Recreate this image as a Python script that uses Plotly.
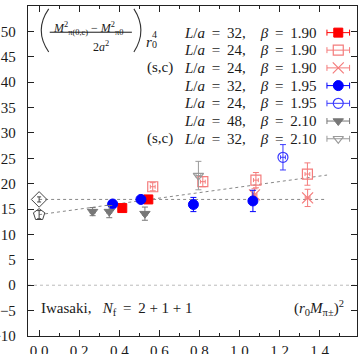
import plotly.graph_objects as go

# ---------------- data ----------------
# L/a=32, beta=1.90 (filled red squares)
x_32_190 = [0.415, 0.545]
y_32_190 = [15.2, 16.9]
ey_32_190 = [0.6, 0.6]
# L/a=24, beta=1.90 (open red squares)
x_24_190 = [0.567, 0.817, 1.082, 1.339]
y_24_190 = [19.4, 20.4, 20.7, 21.9]
ey_24_190 = [0.8, 1.0, 1.5, 2.2]
# (s,c) L/a=24, beta=1.90 (red crosses)
x_24_190sc = [1.075, 1.340]
y_24_190sc = [17.8, 17.2]
ey_24_190sc = [1.2, 1.7]
# L/a=32, beta=1.95 (filled blue circles)
x_32_195 = [0.367, 0.508, 0.770, 1.067]
y_32_195 = [16.0, 16.9, 15.9, 16.6]
ey_32_195 = [0.6, 0.6, 1.4, 2.1]
# L/a=24, beta=1.95 (open blue circles)
x_24_195 = [1.217]
y_24_195 = [25.2]
ey_24_195 = [2.5]
# L/a=48, beta=2.10 (filled grey triangles)
x_48_210 = [0.267, 0.350, 0.528]
y_48_210 = [14.5, 14.5, 14.1]
ey_48_210 = [0.8, 1.2, 1.3]
# (s,c) L/a=32, beta=2.10 (open grey triangles)
x_32_210sc = [0.795]
y_32_210sc = [21.6]
ey_32_210sc = [2.8]
# continuum extrapolations
x_extrap = [0.0, 0.0]
y_extrap = [16.9, 13.9]
ey_extrap = [0.5, 0.8]
# fits
const_fit = 16.9
lin_intercept = 13.9
lin_slope = 5.43
fit_x_end = 1.437

x_ticks = [0.0, 0.2, 0.4, 0.6, 0.8, 1.0, 1.2, 1.4]
x_tick_labels = ["0.0", "0.2", "0.4", "0.6", "0.8", "1.0", "1.2", "1.4"]
y_ticks = list(range(-10, 56, 5))

legend_La = ["32", "24", "24", "32", "24", "48", "32"]
legend_beta = ["1.90", "1.90", "1.90", "1.95", "1.95", "2.10", "2.10"]
legend_sc = [False, False, True, False, False, False, True]

# ---------------- styles ----------------
RED = "#ff0000"
PINK = "#f47c7c"
BLUE = "#0000ff"
LBLUE = "#3a3aff"
GREY = "#777777"
LGREY = "#9a9a9a"
DARK = "#444444"
FONT = "Liberation Serif"
TXT = "#1a1a1a"

# plot-area pixel geometry helpers (for annotation placement only)
PX0, PX1, PY0, PY1 = 28.3, 356.7, 6.1, 335.7


def fx(px):
    return (px - PX0) / (PX1 - PX0)


def fy(py):
    return (PY1 - py) / (PY1 - PY0)


series = [
    (x_32_190, y_32_190, ey_32_190, "square", RED, RED, 9, 1),
    (x_24_190, y_24_190, ey_24_190, "square-open", PINK, PINK, 10, 1.2),
    (x_24_190sc, y_24_190sc, ey_24_190sc, "x-thin-open", PINK, PINK, 11, 1.2),
    (x_32_195, y_32_195, ey_32_195, "circle", BLUE, BLUE, 10, 1),
    (x_24_195, y_24_195, ey_24_195, "circle-open", LBLUE, LBLUE, 10, 1.2),
    (x_48_210, y_48_210, ey_48_210, "triangle-down", GREY, GREY, 9, 1),
    (x_32_210sc, y_32_210sc, ey_32_210sc, "triangle-down-open", LGREY, LGREY, 9, 1.2),
]

fig = go.Figure()

# zero line
fig.add_shape(type="line", xref="paper", x0=0, x1=1, yref="y", y0=0, y1=0,
              line=dict(color="#bbbbbb", width=1, dash="dot"), layer="below")

# fits
fig.add_trace(go.Scatter(x=[0.0, fit_x_end], y=[const_fit, const_fit], mode="lines",
                         line=dict(color="#888888", width=1, dash="dot"), showlegend=False, hoverinfo="skip"))
fig.add_trace(go.Scatter(x=[0.0, fit_x_end],
                         y=[lin_intercept, lin_intercept + lin_slope * fit_x_end], mode="lines",
                         line=dict(color="#888888", width=1, dash="dot"), showlegend=False, hoverinfo="skip"))

# extrapolated points
fig.add_trace(go.Scatter(x=x_extrap[:1], y=y_extrap[:1], mode="markers",
                         marker=dict(symbol="diamond-open", size=12, color=DARK, line=dict(width=1)),
                         error_y=dict(type="data", array=ey_extrap[:1], color=DARK, thickness=1, width=2),
                         showlegend=False))
fig.add_trace(go.Scatter(x=x_extrap[1:], y=y_extrap[1:], mode="markers",
                         marker=dict(symbol="pentagon-open", size=12, color=DARK, line=dict(width=1)),
                         error_y=dict(type="data", array=ey_extrap[1:], color=DARK, thickness=1, width=2),
                         showlegend=False))

for xs, ys, eys, sym, col, ecol, size, lw in series:
    fig.add_trace(go.Scatter(
        x=xs, y=ys, mode="markers",
        marker=dict(symbol=sym, size=size, color=col, line=dict(color=col, width=lw)),
        error_y=dict(type="data", array=eys, color=ecol, thickness=1, width=3),
        error_x=dict(type="constant", value=0.012, color=ecol, thickness=1, width=2),
        showlegend=False))

# manual legend keys on an overlay axis (fractions of plot area)
key_x = fx(338)
key_half = 11.3 / (PX1 - PX0)
row_py = [32.7, 50.2, 67.9, 85.6, 103.3, 121.0, 138.7]
NB = "\u00a0"
EQ = NB + "\u2009=\u2009" + NB
for i, (xs, ys, eys, sym, col, ecol, size, lw) in enumerate(series):
    ry = fy(row_py[i])
    fig.add_trace(go.Scatter(
        x=[key_x], y=[ry], xaxis="x2", yaxis="y2", mode="markers",
        marker=dict(symbol=sym, size=size, color=col, line=dict(color=col, width=lw)),
        error_x=dict(type="constant", value=key_half, color=ecol, thickness=1, width=3),
        showlegend=False, hoverinfo="skip"))
    label = ("<i>L</i>/<i>a</i>" + EQ + legend_La[i] + "," + NB * 4 +
             "<i>β</i>" + EQ + legend_beta[i])
    fig.add_annotation(xref="paper", yref="paper", x=fx(318), y=ry, xanchor="right",
                       yanchor="middle", showarrow=False, text=label,
                       font=dict(family=FONT, size=15, color=TXT))
    if legend_sc[i]:
        fig.add_annotation(xref="paper", yref="paper", x=fx(160), y=ry, xanchor="center",
                           yanchor="middle", showarrow=False, text="(s,c)",
                           font=dict(family=FONT, size=15, color=TXT))

# title formula (top-left)
paren_col = "#333333"
fig.add_shape(type="path", xref="paper", yref="paper",
              path=f"M {fx(49):.4f},{fy(9):.4f} Q {fx(34):.4f},{fy(30.5):.4f} {fx(49):.4f},{fy(52):.4f}",
              line=dict(color=paren_col, width=1.1))
fig.add_shape(type="path", xref="paper", yref="paper",
              path=f"M {fx(134):.4f},{fy(9):.4f} Q {fx(148):.4f},{fy(30.5):.4f} {fx(134):.4f},{fy(52):.4f}",
              line=dict(color=paren_col, width=1.1))
fig.add_annotation(xref="paper", yref="paper", x=fx(51), y=fy(18), showarrow=False, xanchor="left",
                   text="<i>M</i><sup>2</sup><sub>π(0,c)</sub>" + NB + "\u2212" + NB + "<i>M</i><sup>2</sup><sub>π0</sub>",
                   font=dict(family=FONT, size=12, color=TXT))
fig.add_shape(type="line", xref="paper", yref="paper", x0=fx(50), x1=fx(132), y0=fy(32.3), y1=fy(32.3),
              line=dict(color=TXT, width=1))
fig.add_annotation(xref="paper", yref="paper", x=fx(91), y=fy(37), showarrow=False,
                   text="2<i>a</i><sup>2</sup>", font=dict(family=FONT, size=12, color=TXT))
fig.add_annotation(xref="paper", yref="paper", x=fx(144), y=fy(32), showarrow=False, xanchor="left",
                   text="<i>r</i>", font=dict(family=FONT, size=15, color=TXT))
fig.add_annotation(xref="paper", yref="paper", x=fx(150), y=fy(27), showarrow=False, xanchor="left",
                   text="4", font=dict(family=FONT, size=10, color=TXT))
fig.add_annotation(xref="paper", yref="paper", x=fx(150), y=fy(37), showarrow=False, xanchor="left",
                   text="0", font=dict(family=FONT, size=10, color=TXT))

# bottom texts
fig.add_annotation(xref="paper", yref="paper", x=fx(39), y=fy(320), xanchor="left", showarrow=False,
                   text="Iwasaki," + NB * 3 + "<i>N</i><sub>f</sub>" + EQ + "2" + NB + "+" + NB + "1" + NB + "+" + NB + "1",
                   font=dict(family=FONT, size=15, color=TXT))
fig.add_annotation(xref="paper", yref="paper", x=fx(346), y=fy(320), xanchor="right", showarrow=False,
                   text="(<i>r</i><sub>0</sub><i>M</i><sub>π±</sub>)<sup>2</sup>",
                   font=dict(family=FONT, size=15, color=TXT))

axis_common = dict(showline=True, linecolor="#222222", linewidth=1.3, mirror="ticks",
                   ticks="inside", tickcolor="#222222", showgrid=False, zeroline=False,
                   automargin=False, tickfont=dict(family=FONT, size=15, color=TXT))

fig.update_layout(
    width=359, height=354,
    margin=dict(l=28, r=2, t=6, b=18),
    plot_bgcolor="white", paper_bgcolor="white",
    showlegend=False,
    xaxis=dict(range=[-0.0555, 1.5865], tickvals=x_ticks, ticktext=x_tick_labels, ticklen=6,
               ticklabelstandoff=1,
               minor=dict(dtick=0.1, tick0=0, ticks="inside", ticklen=3, tickcolor="#222222"),
               **axis_common),
    yaxis=dict(range=[-10, 55], tickvals=y_ticks, ticklen=6, ticklabelstandoff=8, **axis_common),
    xaxis2=dict(overlaying="x", range=[0, 1], visible=False),
    yaxis2=dict(overlaying="y", range=[0, 1], visible=False),
)

fig.write_html("out.html", config={"displayModeBar": False},
               post_script="document.body.style.margin='0px';")
